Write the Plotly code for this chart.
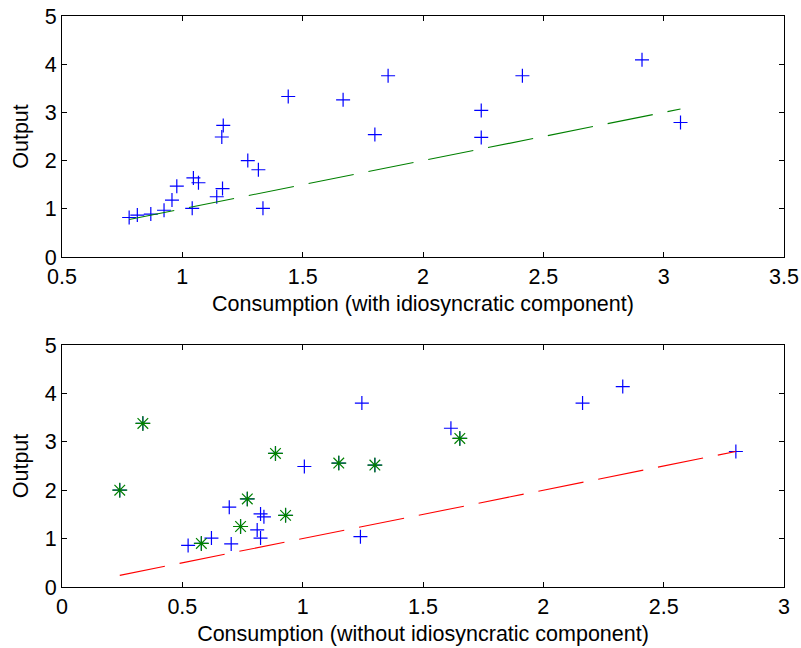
import plotly.graph_objects as go

# Top panel: consumption with idiosyncratic component vs output
top_x = [0.779, 0.813, 0.869, 0.924, 0.957, 0.977, 1.041, 1.046, 1.067, 1.143,
         1.167, 1.164, 1.170, 1.272, 1.316, 1.335, 1.440, 1.668, 1.800, 1.855,
         2.242, 2.242, 2.413, 2.910, 3.070]
top_y = [0.82, 0.87, 0.89, 0.97, 1.18, 1.47, 1.01, 1.64, 1.54, 1.25,
         1.42, 2.49, 2.73, 2.00, 1.81, 1.01, 3.33, 3.26, 2.54, 3.76,
         3.04, 2.48, 3.76, 4.09, 2.79]

# Bottom panel: consumption without idiosyncratic component vs output (all points)
bot_x = [1.007, 0.695, 0.825, 0.839, 0.811, 0.825, 0.621, 0.524, 0.703, 1.240,
         1.246, 1.616, 2.163, 2.330, 2.800,
         0.240, 0.887, 1.150, 1.300, 0.770, 0.929, 0.742, 0.579, 0.336, 1.653]
bot_y = [2.49, 1.65, 1.51, 1.45, 1.18, 1.01, 1.01, 0.86, 0.89, 1.04,
         3.80, 3.28, 3.80, 4.14, 2.80,
         2.00, 2.76, 2.56, 2.52, 1.82, 1.48, 1.25, 0.90, 3.38, 3.07]
# Highlighted subset (green stars)
star_x = [0.240, 0.887, 1.150, 1.300, 0.770, 0.929, 0.742, 0.579, 0.336, 1.653]
star_y = [2.00, 2.76, 2.56, 2.52, 1.82, 1.48, 1.25, 0.90, 3.38, 3.07]

top_xlabel = "Consumption (with idiosyncratic component)"
bot_xlabel = "Consumption (without idiosyncratic component)"
ylabel = "Output"

FONT = "Liberation Sans, Arial, sans-serif"
FS = 21.5

fig = go.Figure()

# 45-degree reference lines over the data range
tl = [min(top_x), max(top_x)]
bl = [min(bot_x), max(bot_x)]

fig.add_trace(go.Scatter(x=top_x, y=top_y, mode="markers", xaxis="x", yaxis="y",
                         marker=dict(symbol="cross-thin-open", size=10, color="#0000ff",
                                     line=dict(color="#0000ff", width=1.2)),
                         showlegend=False))
fig.add_trace(go.Scatter(x=tl, y=tl, mode="lines", xaxis="x", yaxis="y",
                         line=dict(color="#008000", width=1.1, dash="46px,15px"),
                         showlegend=False))

fig.add_trace(go.Scatter(x=bot_x, y=bot_y, mode="markers", xaxis="x2", yaxis="y2",
                         marker=dict(symbol="cross-thin-open", size=10, color="#0000ff",
                                     line=dict(color="#0000ff", width=1.2)),
                         showlegend=False))
fig.add_trace(go.Scatter(x=star_x, y=star_y, mode="markers", xaxis="x2", yaxis="y2",
                         marker=dict(symbol="asterisk-open", size=12.5, color="#008000",
                                     line=dict(color="#008000", width=1.2)),
                         showlegend=False))
fig.add_trace(go.Scatter(x=bl, y=bl, mode="lines", xaxis="x2", yaxis="y2",
                         line=dict(color="#ff0000", width=1.1, dash="46px,15px"),
                         showlegend=False))

W, H = 801, 648
xd = [62 / W, 784 / W]
top_dom = [1 - 257 / H, 1 - 16 / H]
bot_dom = [1 - 587 / H, 1 - 345 / H]

axis_common = dict(showline=True, linecolor="black", linewidth=1, mirror="ticks",
                   ticks="inside", ticklen=5, tickcolor="black", tickwidth=1,
                   showgrid=False, zeroline=False, automargin=False,
                   ticklabeloverflow="allow",
                   tickfont=dict(family=FONT, size=FS, color="black"))

fig.update_layout(
    width=W, height=H,
    margin=dict(l=0, r=0, t=0, b=0),
    paper_bgcolor="white", plot_bgcolor="white",
    font=dict(family=FONT, size=FS, color="black"),
    xaxis=dict(domain=xd, range=[0.5, 3.5], dtick=0.5, tick0=0.5, anchor="y",
               title=dict(text=top_xlabel, font=dict(family=FONT, size=FS), standoff=8),
               **axis_common),
    yaxis=dict(domain=top_dom, range=[0, 5], dtick=1, anchor="x",
               title=dict(text=ylabel, font=dict(family=FONT, size=FS), standoff=10),
               **axis_common),
    xaxis2=dict(domain=xd, range=[0, 3], dtick=0.5, tick0=0, anchor="y2",
                title=dict(text=bot_xlabel, font=dict(family=FONT, size=FS), standoff=8),
                **axis_common),
    yaxis2=dict(domain=bot_dom, range=[0, 5], dtick=1, anchor="x2",
                title=dict(text=ylabel, font=dict(family=FONT, size=FS), standoff=10),
                **axis_common),
)

# Remove the default page margin so the figure fills the window exactly
fig.write_html("out.html",
               config={"displayModeBar": False},
               post_script="document.body.style.margin='0';document.body.style.overflow='hidden';")
